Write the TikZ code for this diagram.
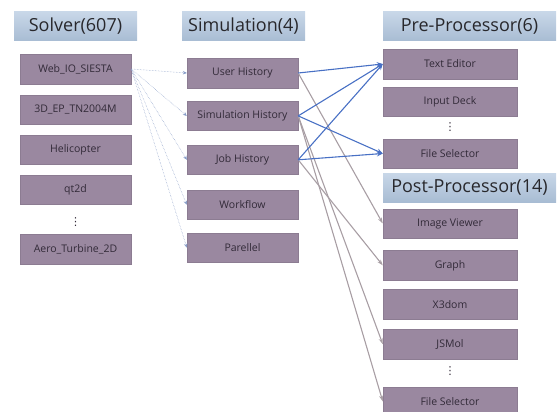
\documentclass[tikz,border=0pt]{standalone}
\usepackage{fontspec}
\setmainfont{Open Sans}
\newfontfamily\dotfont{DejaVu Sans}
\usepackage{xcolor}
\usetikzlibrary{positioning, arrows.meta}
\definecolor{boxfill}{RGB}{154,136,160}
\definecolor{boxline}{RGB}{140,124,146}
\definecolor{boxtext}{RGB}{50,42,56}
\definecolor{headtop}{RGB}{200,215,232}
\definecolor{headbot}{RGB}{168,188,211}
\definecolor{headtext}{RGB}{40,40,44}
\definecolor{linkblue}{RGB}{72,112,196}
\definecolor{linkgray}{RGB}{168,158,164}
\definecolor{linkdot}{RGB}{140,160,200}

\begin{document}
\begin{tikzpicture}[x=1pt, y=1pt, node distance=10pt,
    item/.style = {draw=boxline, fill=boxfill, text=boxtext, minimum width=111pt, minimum height=29.5pt, inner sep=0pt, font=\fontsize{10.5}{12}\selectfont},
    wide/.style = {item, minimum width=134pt},
    head/.style = {top color=headtop, bottom color=headbot, text=headtext, minimum height=29pt, inner sep=0pt, font=\fontsize{18}{20}\selectfont},
    dots/.style = {text=boxtext, inner sep=0pt, font=\dotfont\fontsize{11}{12}\selectfont},
    link/.style = {draw=linkblue, line width=1.1pt, -{Stealth[length=6pt, width=5pt]}},
    back/.style = {draw=linkgray, line width=1.1pt, -{Stealth[length=6pt, width=4pt]}},
    feed/.style = {draw=linkdot, densely dotted, line width=0.5pt, -{Stealth[length=4pt, width=3.5pt, fill=linkblue]}}]
                        \useasboundingbox (0,0) rectangle (560,-412);
                        \node[head, minimum width=123pt] (solverhead) at (75.5,-26.5) {Solver(607)};
                        \node[head, minimum width=123pt] (simhead) at (243.5,-26.5) {Simulation(4)};
                        \node[head, minimum width=173pt] (prehead) at (469.5,-26.5) {Pre-Processor(6)};
                        \node[head, minimum width=173pt] (posthead) at (469.5,-187.5) {Post-Processor(14)};
                        \node[item] (web) at (75.5,-69) {Web\_IO\_SIESTA};
                        \node[item] (ep) [below=11pt of web] {3D\_EP\_TN2004M};
                        \node[item] (heli) [below=10pt of ep] {Helicopter};
                        \node[item] (qt) [below=10pt of heli] {qt2d};
                        \node[dots] (soldots) at (75.5,-222) {⋮};
                        \node[item] (aero) at (75.5,-249) {Aero\_Turbine\_2D};
                        \node[item] (user) at (242.5,-73) {User History};
                        \node[item] (simhist) [below=13pt of user] {Simulation History};
                        \node[item] (job) [below=14pt of simhist] {Job History};
                        \node[item] (work) [below=15pt of job] {Workflow};
                        \node[item] (par) [below=13pt of work] {Parellel};
                        \node[wide] (text) at (450,-64) {Text Editor};
                        \node[wide] (deck) [below=8pt of text] {Input Deck};
                        \node[dots] (predots) at (450,-127) {⋮};
                        \node[wide] (presel) at (450,-153.5) {File Selector};
                        \node[wide] (image) at (450,-223.5) {Image Viewer};
                        \node[wide] (graph) [below=12pt of image] {Graph};
                        \node[wide] (x3d) [below=9pt of graph] {X3dom};
                        \node[wide] (jsmol) [below=10pt of x3d] {JSMol};
                        \node[dots] (postdots) at (450,-371) {⋮};
                        \node[wide] (postsel) at (450,-401.5) {File Selector};
                        \foreach \t in {user, simhist, job, work, par}
                            \draw[feed] (web.east) -- (\t.west);
                        \draw[back] (user.east) -- (image.west);
                        \draw[back] (simhist.east) -- (jsmol.west);
                        \draw[back] (simhist.east) -- (postsel.west);
                        \draw[back] (job.east) -- (graph.west);
                        \draw[link] (user.east) -- (text.west);
                        \draw[link] (simhist.east) -- (text.west);
                        \draw[link] (simhist.east) -- (presel.west);
                        \draw[link] (job.east) -- (text.west);
                        \draw[link] (job.east) -- (presel.west);
                    \end{tikzpicture}
\end{document}
